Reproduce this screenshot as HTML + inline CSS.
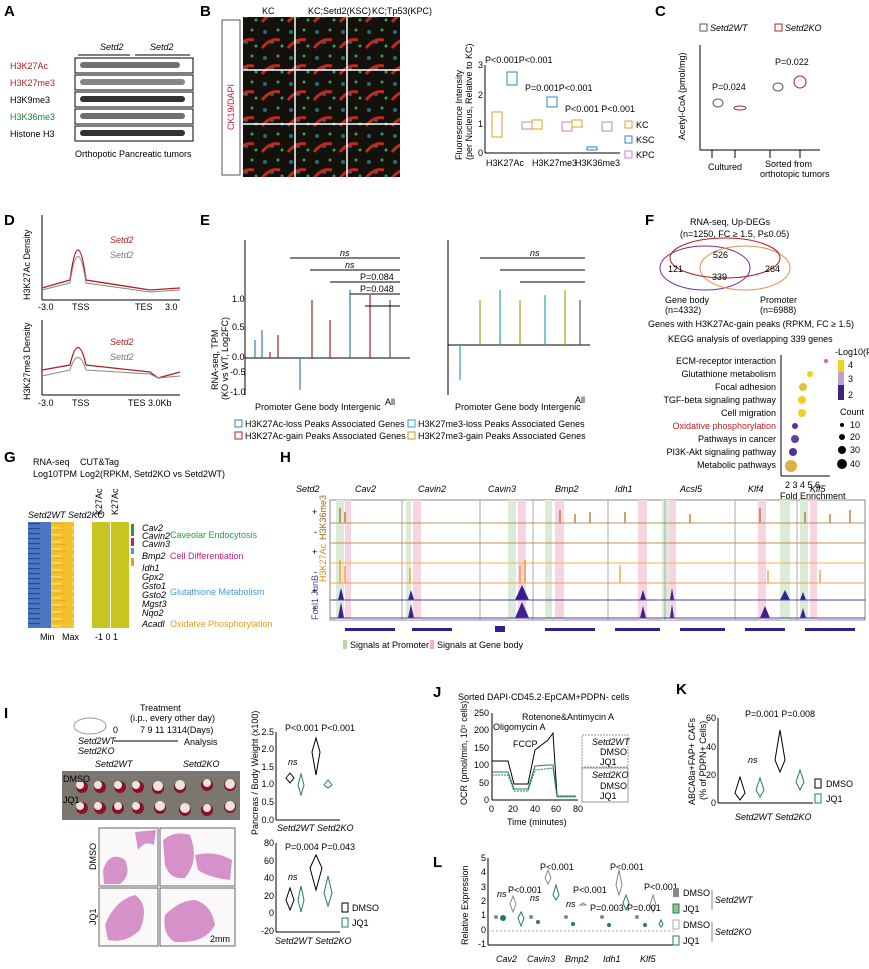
<!DOCTYPE html>
<html><head><meta charset="utf-8"><style>
body{margin:0;background:#fff}
svg{display:block;font-family:"Liberation Sans",sans-serif}
.b{font-weight:bold;font-size:15px}
text{font-size:9px}
.i{font-style:italic}
</style></head><body>
<svg width="869" height="969" viewBox="0 0 869 969" xmlns="http://www.w3.org/2000/svg">
<defs>
<pattern id="fl" width="26" height="26" patternUnits="userSpaceOnUse">
<rect width="26" height="26" fill="#14100c"/>
<circle cx="5" cy="6" r="2" fill="#2a6a7a"/><circle cx="18" cy="4" r="1.5" fill="#3aa060"/>
<circle cx="12" cy="16" r="2" fill="#2a5a8a"/><circle cx="22" cy="20" r="1.5" fill="#38a058"/>
<path d="M2 22 Q10 12 20 14" stroke="#c02a18" stroke-width="3" fill="none"/>
</pattern>
<pattern id="st" width="46" height="5" patternUnits="userSpaceOnUse">
<rect width="46" height="5" fill="none"/><rect x="5" y="1" width="12" height="1.5" fill="#6a90d0"/><rect x="25" y="3" width="15" height="1.2" fill="#2a4a90"/>
</pattern>
<pattern id="sy" width="23" height="7" patternUnits="userSpaceOnUse">
<rect x="3" y="2" width="12" height="1.5" fill="#f8dc70"/><rect x="8" y="5" width="12" height="1" fill="#e8b020"/>
</pattern>
</defs>

<!-- A -->
<text x="4" y="16" class="b">A</text>
<text x="100" y="50" class="i">Setd2</text><text x="150" y="50" class="i">Setd2</text>
<line x1="78" y1="55" x2="130" y2="55" stroke="#000"/><line x1="135" y1="55" x2="190" y2="55" stroke="#000"/>
<g fill="#fff" stroke="#000">
<rect x="75" y="58" width="118" height="15"/><rect x="75" y="75" width="118" height="15"/><rect x="75" y="92" width="118" height="15"/><rect x="75" y="109" width="118" height="15"/><rect x="75" y="126" width="118" height="15"/>
</g>
<g fill="#333">
<rect x="80" y="62" width="100" height="6" rx="3" opacity=".7"/><rect x="80" y="79" width="105" height="6" rx="3" opacity=".6"/><rect x="80" y="96" width="105" height="6" rx="3"/><rect x="80" y="113" width="105" height="6" rx="3" opacity=".7"/><rect x="80" y="130" width="105" height="6" rx="3"/>
</g>
<text x="10" y="69" fill="#b02020" font-size="10">H3K27Ac</text>
<text x="10" y="86" fill="#b02020" font-size="10">H3K27me3</text>
<text x="10" y="103" font-size="10">H3K9me3</text>
<text x="10" y="120" fill="#208040" font-size="10">H3K36me3</text>
<text x="10" y="137" font-size="10">Histone H3</text>
<text x="75" y="157" font-size="10">Orthopotic Pancreatic tumors</text>

<!-- B -->
<text x="200" y="16" class="b">B</text>
<text x="262" y="14">KC</text><text x="308" y="14">KC;Setd2(KSC)</text><text x="372" y="14">KC;Tp53(KPC)</text>
<rect x="222" y="20" width="18" height="155" fill="#fff" stroke="#555"/>
<text transform="translate(234,130) rotate(-90)" fill="#c02030">CK19/DAPI</text>
<text transform="translate(254,55) rotate(-90)" fill="#208040">H3K27Ac</text>
<text transform="translate(254,115) rotate(-90)" fill="#208040">H3K27me3</text>
<text transform="translate(254,172) rotate(-90)" fill="#208040">H3K36me3</text>
<rect x="243" y="17" width="157" height="160" fill="url(#fl)"/>
<g stroke="#fff" stroke-width="1.5"><line x1="295" y1="17" x2="295" y2="177"/><line x1="347" y1="17" x2="347" y2="177"/><line x1="243" y1="70" x2="400" y2="70"/><line x1="243" y1="124" x2="400" y2="124"/></g>
<text transform="translate(462,160) rotate(-90)" font-size="8">Fluorescence Intensity</text>
<text transform="translate(472,160) rotate(-90)" font-size="7">(per Nucleus, Relative to KC)</text>
<g stroke="#000" fill="none"><line x1="485" y1="65" x2="485" y2="153"/><line x1="485" y1="153" x2="620" y2="153"/></g>
<text x="478" y="68">3</text><text x="478" y="98">2</text><text x="478" y="127">1</text><text x="478" y="156">0</text>
<rect x="492" y="112" width="10" height="25" fill="none" stroke="#e0a020"/><rect x="507" y="72" width="10" height="13" fill="none" stroke="#3080c0"/><rect x="522" y="122" width="10" height="7" fill="none" stroke="#c080d0"/>
<rect x="532" y="120" width="10" height="9" fill="none" stroke="#e0a020"/><rect x="547" y="97" width="10" height="10" fill="none" stroke="#3080c0"/><rect x="562" y="122" width="10" height="9" fill="none" stroke="#c080d0"/>
<rect x="572" y="120" width="10" height="7" fill="none" stroke="#e0a020"/><rect x="587" y="147" width="10" height="3" fill="none" stroke="#3080c0"/><rect x="602" y="122" width="10" height="9" fill="none" stroke="#c080d0"/>
<text x="485" y="63" font-size="8">P&lt;0.001P&lt;0.001</text><text x="525" y="91" font-size="8">P=0.001P&lt;0.001</text><text x="565" y="112" font-size="8">P&lt;0.001 P&lt;0.001</text>
<text x="486" y="166">H3K27Ac</text><text x="532" y="166">H3K27me3</text><text x="575" y="166">H3K36me3</text>
<rect x="625" y="121" width="7" height="7" fill="none" stroke="#e0a020"/><text x="636" y="128">KC</text>
<rect x="625" y="136" width="7" height="7" fill="none" stroke="#3080c0"/><text x="636" y="143">KSC</text>
<rect x="625" y="151" width="7" height="7" fill="none" stroke="#c080d0"/><text x="636" y="158">KPC</text>

<!-- C -->
<text x="655" y="16" class="b">C</text>
<rect x="700" y="24" width="7" height="7" fill="none" stroke="#555"/><text x="710" y="31" class="i">Setd2WT</text>
<rect x="775" y="24" width="7" height="7" fill="none" stroke="#b02020"/><text x="785" y="31" class="i">Setd2KO</text>
<text transform="translate(685,140) rotate(-90)">Acetyl-CoA (pmol/mg)</text>
<g stroke="#000" fill="none"><line x1="700" y1="45" x2="700" y2="150"/><line x1="700" y1="150" x2="820" y2="150"/></g>
<path d="M712 158 L712 150 M735 158 L735 150 M770 158 L770 150 M800 158 L800 150" stroke="#000"/>
<ellipse cx="718" cy="103" rx="5" ry="4" fill="none" stroke="#555"/><ellipse cx="740" cy="108" rx="6" ry="2" fill="none" stroke="#b02020"/>
<ellipse cx="778" cy="87" rx="5" ry="4" fill="none" stroke="#555"/><ellipse cx="800" cy="82" rx="6" ry="6" fill="none" stroke="#b02020"/>
<text x="712" y="90" font-size="8">P=0.024</text><text x="775" y="65" font-size="8">P=0.022</text>
<text x="708" y="170">Cultured</text><text x="765" y="167">Sorted from</text><text x="760" y="177">orthotopic tumors</text>

<!-- D -->
<text x="4" y="225" class="b">D</text>
<text transform="translate(30,300) rotate(-90)" font-size="8">H3K27Ac Density</text>
<g stroke="#000" fill="none"><line x1="42" y1="215" x2="42" y2="300"/><line x1="42" y1="300" x2="180" y2="300"/><line x1="42" y1="320" x2="42" y2="395"/><line x1="42" y1="395" x2="180" y2="395"/></g>
<path d="M42 288 L70 280 Q78 220 86 280 L150 290 L180 288" stroke="#b02020" fill="none" stroke-width="1.3"/>
<path d="M42 290 L70 283 Q78 230 86 283 L150 292 L180 290" stroke="#888" fill="none"/>
<text x="110" y="243" fill="#b02020" class="i" font-size="11">Setd2</text><text x="110" y="258" fill="#777" class="i" font-size="11">Setd2</text>
<text x="38" y="310">-3.0</text><text x="72" y="310">TSS</text><text x="135" y="310">TES</text><text x="165" y="310">3.0</text>
<text transform="translate(30,400) rotate(-90)" font-size="8">H3K27me3 Density</text>
<path d="M42 370 L70 365 Q78 330 86 365 L150 372 L158 378 L180 372" stroke="#b02020" fill="none" stroke-width="1.3"/>
<path d="M42 376 L70 370 Q78 345 86 370 L150 374 L158 378 L180 376" stroke="#888" fill="none"/>
<text x="110" y="345" fill="#b02020" class="i" font-size="11">Setd2</text><text x="110" y="360" fill="#777" class="i" font-size="11">Setd2</text>
<text x="38" y="406">-3.0</text><text x="72" y="406">TSS</text><text x="128" y="406">TES 3.0Kb</text>

<!-- E -->
<text x="200" y="225" class="b">E</text>
<text transform="translate(218,390) rotate(-90)">RNA-seq, TPM</text>
<text transform="translate(228,400) rotate(-90)" font-size="7">(KO vs WT, Log2FC)</text>
<g stroke="#000" fill="none"><line x1="245" y1="240" x2="245" y2="395"/><line x1="245" y1="358" x2="410" y2="358"/><line x1="448" y1="240" x2="448" y2="395"/><line x1="448" y1="345" x2="590" y2="345"/></g>
<text x="232" y="302">1.0</text><text x="232" y="330">0.5</text><text x="232" y="360">0.0</text><text x="230" y="375">-0.5</text><text x="230" y="395">-1.0</text>
<g fill="none" stroke-width="1.2">
<path d="M255 358 V340 M262 358 V330" stroke="#3080a0"/><path d="M270 358 V352 M278 358 V335" stroke="#b02020"/>
<path d="M300 358 V390" stroke="#3080a0"/><path d="M312 358 V300" stroke="#b02020"/><path d="M330 358 V320" stroke="#b02020"/>
<path d="M350 358 V290" stroke="#3080a0"/><path d="M370 358 V295" stroke="#b02020"/><path d="M390 358 V300" stroke="#555"/>
<path d="M460 345 V380" stroke="#30a0b0"/><path d="M480 345 V300" stroke="#b0a020"/><path d="M500 345 V290" stroke="#30a0b0"/><path d="M520 345 V300" stroke="#b0a020"/><path d="M545 345 V295" stroke="#30a0b0"/><path d="M565 345 V290" stroke="#b0a020"/><path d="M580 345 V300" stroke="#555"/>
</g>
<g stroke="#000" fill="none"><path d="M290 258 H400 M310 270 H400 M330 282 H400 M350 294 H400 M365 306 H400"/><path d="M480 258 H585 M500 270 H585 M520 282 H585"/></g>
<text x="340" y="256" class="i">ns</text><text x="345" y="268" class="i">ns</text><text x="360" y="280">P=0.084</text><text x="360" y="292">P=0.048</text>
<text x="530" y="256" class="i">ns</text>
<text x="255" y="410">Promoter Gene body Intergenic</text><text x="385" y="405">All</text>
<text x="455" y="410">Promoter Gene body Intergenic</text><text x="575" y="403">All</text>
<rect x="235" y="420" width="7" height="7" fill="none" stroke="#3080a0"/><text x="245" y="427">H3K27Ac-loss Peaks Associated Genes</text>
<rect x="408" y="420" width="7" height="7" fill="none" stroke="#30a0b0"/><text x="418" y="427">H3K27me3-loss Peaks Associated Genes</text>
<rect x="235" y="432" width="7" height="7" fill="none" stroke="#b02020"/><text x="245" y="439">H3K27Ac-gain Peaks Associated Genes</text>
<rect x="408" y="432" width="7" height="7" fill="none" stroke="#b0a020"/><text x="418" y="439">H3K27me3-gain Peaks Associated Genes</text>

<!-- F -->
<text x="645" y="225" class="b">F</text>
<text x="690" y="225" font-size="10">RNA-seq, Up-DEGs</text><text x="680" y="237" font-size="8">(n=1250, FC ≥ 1.5, P≤0.05)</text>
<ellipse cx="705" cy="268" rx="45" ry="22" fill="none" stroke="#7030a0"/><ellipse cx="745" cy="268" rx="45" ry="22" fill="none" stroke="#e09050"/><ellipse cx="725" cy="258" rx="55" ry="20" fill="none" stroke="#b02020"/>
<text x="713" y="258" font-size="10">526</text><text x="668" y="272" font-size="10">121</text><text x="712" y="280" font-size="10">339</text><text x="765" y="272" font-size="10">264</text>
<text x="665" y="303">Gene body</text><text x="760" y="303">Promoter</text><text x="665" y="313" font-size="8">(n=4332)</text><text x="760" y="313" font-size="8">(n=6988)</text>
<text x="648" y="327">Genes with  H3K27Ac-gain peaks (RPKM, FC ≥ 1.5)</text>
<text x="668" y="342" font-size="10">KEGG analysis of overlapping 339 genes</text>
<g font-size="8.5" text-anchor="end">
<text x="776" y="364">ECM-receptor interaction</text><text x="776" y="377">Glutathione metabolism</text><text x="776" y="390">Focal adhesion</text><text x="776" y="403">TGF-beta signaling pathway</text><text x="776" y="416">Cell migration</text><text x="776" y="429" fill="#c02020">Oxidative phosphorylation</text><text x="776" y="442">Pathways in cancer</text><text x="776" y="455">PI3K-Akt signaling pathway</text><text x="776" y="468">Metabolic pathways</text>
</g>
<g stroke="#000" fill="none"><line x1="781" y1="355" x2="781" y2="476"/><line x1="781" y1="476" x2="830" y2="476"/></g>
<circle cx="826" cy="361" r="2" fill="#e060a0"/><circle cx="810" cy="374" r="3" fill="#f0d020"/><circle cx="803" cy="387" r="4" fill="#e0c040"/><circle cx="802" cy="400" r="4" fill="#f0d020"/><circle cx="802" cy="413" r="4" fill="#f0d020"/><circle cx="795" cy="426" r="3" fill="#6030a0"/><circle cx="795" cy="439" r="4" fill="#6040a0"/><circle cx="793" cy="452" r="4" fill="#5030a0"/><circle cx="791" cy="466" r="6" fill="#e0b040"/>
<text x="785" y="488">2 3 4 5 6</text><text x="780" y="499">Fold Enrichment</text>
<text x="835" y="355" font-size="7">-Log10(P value)</text>
<rect x="838" y="360" width="6" height="40" fill="#c0a0d0"/><rect x="838" y="360" width="6" height="12" fill="#f0d020"/><rect x="838" y="385" width="6" height="15" fill="#402080"/>
<text x="848" y="368" font-size="7">4</text><text x="848" y="382" font-size="7">3</text><text x="848" y="398" font-size="7">2</text>
<text x="840" y="415" font-size="7">Count</text>
<circle cx="842" cy="425" r="2"/><circle cx="842" cy="437" r="3"/><circle cx="842" cy="450" r="4"/><circle cx="842" cy="464" r="5"/>
<text x="850" y="428" font-size="7">10</text><text x="850" y="440" font-size="7">20</text><text x="850" y="453" font-size="7">30</text><text x="850" y="467" font-size="7">40</text>

<!-- G -->
<text x="4" y="462" class="b">G</text>
<text x="33" y="465" font-size="10">RNA-seq</text><text x="33" y="477" font-size="7">Log10TPM</text>
<text x="80" y="465" font-size="10">CUT&amp;Tag</text><text x="80" y="477" font-size="7">Log2(RPKM, Setd2KO vs Setd2WT)</text>
<text x="28" y="518" class="i" font-size="8">Setd2WT Setd2KO</text>
<text transform="translate(102,515) rotate(-90)" font-size="8">K27Ac</text><text transform="translate(118,515) rotate(-90)" font-size="8">K27Ac</text>
<rect x="28" y="522" width="23" height="106" fill="#4a78c0"/><rect x="28" y="522" width="23" height="106" fill="url(#st)"/>
<rect x="51" y="522" width="23" height="106" fill="#f4c030"/><rect x="51" y="522" width="23" height="106" fill="url(#sy)"/>
<rect x="92" y="522" width="18" height="106" fill="#c8c420"/><rect x="111" y="522" width="18" height="106" fill="#c8c420"/>
<rect x="131" y="524" width="3" height="12" fill="#20a040"/><rect x="131" y="538" width="3" height="8" fill="#c02080"/><rect x="131" y="548" width="3" height="6" fill="#40a0d0"/><rect x="131" y="558" width="3" height="8" fill="#e0a020"/>
<g font-size="8" class="i"><text x="142" y="531">Cav2</text><text x="142" y="539">Cavin2</text><text x="142" y="547">Cavin3</text><text x="142" y="559">Bmp2</text><text x="142" y="571">Idh1</text><text x="142" y="580">Gpx2</text><text x="142" y="589">Gsto1</text><text x="142" y="598">Gsto2</text><text x="142" y="607">Mgst3</text><text x="142" y="616">Nqo2</text><text x="142" y="627">Acadl</text></g>
<text x="170" y="538" fill="#20a040" font-size="9">Caveolar Endocytosis</text>
<text x="170" y="559" fill="#c02080" font-size="9">Cell Differentiation</text>
<text x="170" y="595" fill="#40a0d0" font-size="9">Glutathione Metabolism</text>
<text x="170" y="627" fill="#e0a020" font-size="9">Oxidatve Phosphorylation</text>
<text x="40" y="640" font-size="8">Min</text><text x="62" y="640" font-size="8">Max</text><text x="95" y="640" font-size="8">-1  0  1</text>

<!-- H -->
<text x="280" y="462" class="b">H</text>
<text x="296" y="492" class="i" font-size="10">Setd2</text>
<g class="i" font-size="10"><text x="355" y="492">Cav2</text><text x="418" y="492">Cavin2</text><text x="488" y="492">Cavin3</text><text x="555" y="492">Bmp2</text><text x="615" y="492">Idh1</text><text x="680" y="492">Acsl5</text><text x="748" y="492">Klf4</text><text x="810" y="492">Klf5</text></g>
<rect x="330" y="500" width="535" height="120" fill="none" stroke="#888"/>
<g fill="#dcebd8"><rect x="336" y="500" width="8" height="120"/><rect x="406" y="500" width="5" height="120"/><rect x="508" y="500" width="8" height="120"/><rect x="545" y="500" width="7" height="120"/><rect x="662" y="500" width="8" height="120"/><rect x="780" y="500" width="10" height="120"/><rect x="800" y="500" width="8" height="120"/></g>
<g fill="#f6d4e2"><rect x="345" y="500" width="6" height="120"/><rect x="413" y="500" width="8" height="120"/><rect x="518" y="500" width="8" height="120"/><rect x="555" y="500" width="9" height="120"/><rect x="638" y="500" width="9" height="120"/><rect x="670" y="500" width="6" height="120"/><rect x="758" y="500" width="8" height="120"/><rect x="810" y="500" width="7" height="120"/></g>
<g stroke="#aaa"><line x1="402" y1="500" x2="402" y2="620"/><line x1="480" y1="500" x2="480" y2="620"/><line x1="533" y1="500" x2="533" y2="620"/><line x1="608" y1="500" x2="608" y2="620"/><line x1="665" y1="500" x2="665" y2="620"/><line x1="735" y1="500" x2="735" y2="620"/><line x1="797" y1="500" x2="797" y2="620"/></g>
<g stroke="#a06820" stroke-width="1.2"><path d="M340 523V508 M345 523V512 M560 523V510 M575 523V514 M590 523V512 M625 523V512 M690 523V514 M760 523V508 M805 523V512 M830 523V514 M850 523V510"/></g>
<line x1="330" y1="523" x2="865" y2="523" stroke="#c09050"/><line x1="330" y1="543" x2="865" y2="543" stroke="#c09050"/>
<line x1="330" y1="563" x2="865" y2="563" stroke="#f0b050"/>
<g stroke="#f09020" stroke-width="1.2"><path d="M340 583V560 M345 583V566 M410 583V568 M520 583V565 M525 583V560 M620 583V565 M768 583V570 M820 583V570"/></g>
<line x1="330" y1="583" x2="865" y2="583" stroke="#f0a040"/>
<g fill="#302090"><path d="M338 600 L341 588 L344 600Z M408 600 L411 590 L414 600Z M515 600 L522 585 L529 600Z M640 600 L643 590 L646 600Z M670 600 L672 588 L674 600Z M780 600 L785 590 L790 600Z M800 600 L803 592 L806 600Z"/></g>
<line x1="330" y1="600" x2="865" y2="600" stroke="#5040a0"/>
<g fill="#402090"><path d="M338 618 L341 602 L344 618Z M408 618 L411 604 L414 618Z M515 618 L522 602 L529 618Z M640 618 L643 606 L646 618Z M670 618 L672 604 L674 618Z M760 618 L765 606 L770 618Z M800 618 L803 608 L806 618Z"/></g>
<line x1="330" y1="618" x2="865" y2="618" stroke="#5040a0"/>
<text x="312" y="515">+</text><text x="314" y="535">-</text><text x="312" y="555">+</text><text x="314" y="575">-</text><text x="312" y="594">+</text><text x="312" y="612">+</text>
<text transform="translate(326,540) rotate(-90)" fill="#a06820" font-size="8">H3K36me3</text>
<text transform="translate(326,582) rotate(-90)" fill="#e09020" font-size="8">H3K27Ac</text>
<text transform="translate(318,620) rotate(-90)" fill="#5040a0" font-size="8">Fosl1 JunB</text>
<g fill="#302090"><rect x="345" y="628" width="50" height="3"/><rect x="412" y="628" width="40" height="3"/><rect x="495" y="626" width="10" height="6"/><rect x="545" y="628" width="50" height="3"/><rect x="615" y="628" width="45" height="3"/><rect x="680" y="628" width="45" height="3"/><rect x="745" y="628" width="40" height="3"/><rect x="805" y="628" width="50" height="3"/></g>
<rect x="343" y="640" width="4" height="9" fill="#b8d8a8"/><text x="350" y="648" font-size="9">Signals at Promoter</text>
<rect x="430" y="640" width="4" height="9" fill="#f0b0c8"/><text x="437" y="648" font-size="9">Signals at Gene body</text>

<!-- I -->
<text x="4" y="718" class="b">I</text>
<text x="140" y="711" font-size="8">Treatment</text><text x="130" y="721" font-size="7">(i.p., every other day)</text>
<ellipse cx="90" cy="726" rx="16" ry="8" fill="none" stroke="#999"/>
<text x="113" y="733" font-size="8">0</text><text x="140" y="733" font-size="8">7 9 11 1314(Days)</text>
<text x="78" y="744" class="i" font-size="10">Setd2WT</text><text x="78" y="754" class="i" font-size="10">Setd2KO</text>
<line x1="114" y1="741" x2="178" y2="741" stroke="#000"/><text x="184" y="745" font-size="10">Analysis</text>
<text x="95" y="767" class="i" font-size="10">Setd2WT</text><text x="183" y="767" class="i" font-size="10">Setd2KO</text>
<rect x="62" y="771" width="178" height="49" fill="#7a7670"/>
<g fill="#8a1028">
<circle cx="82" cy="787" r="6"/><circle cx="100" cy="787" r="6"/><circle cx="120" cy="787" r="6"/><circle cx="138" cy="787" r="6"/><circle cx="158" cy="788" r="6"/><circle cx="180" cy="787" r="6"/><circle cx="207" cy="785" r="6"/><circle cx="230" cy="785" r="6"/>
<circle cx="82" cy="808" r="6"/><circle cx="100" cy="808" r="6"/><circle cx="118" cy="808" r="6"/><circle cx="138" cy="808" r="6"/><circle cx="160" cy="808" r="6"/><circle cx="185" cy="810" r="6"/><circle cx="207" cy="810" r="6"/><circle cx="230" cy="807" r="6"/></g>
<g fill="#eee4da"><circle cx="80" cy="785" r="4"/><circle cx="98" cy="785" r="4"/><circle cx="118" cy="785" r="4"/><circle cx="136" cy="785" r="4"/><circle cx="158" cy="786" r="5"/><circle cx="180" cy="785" r="5"/><circle cx="207" cy="783" r="4"/><circle cx="230" cy="784" r="5"/><circle cx="80" cy="806" r="4"/><circle cx="98" cy="806" r="4"/><circle cx="118" cy="806" r="4"/><circle cx="136" cy="806" r="4"/><circle cx="160" cy="806" r="5"/><circle cx="185" cy="808" r="5"/><circle cx="207" cy="808" r="4"/><circle cx="230" cy="806" r="5"/></g>
<text x="63" y="782" font-size="9">DMSO</text><text x="63" y="803" font-size="9">JQ1</text>
<rect x="99" y="828" width="59" height="58" fill="#fbf8fa" stroke="#666"/><rect x="160" y="828" width="75" height="58" fill="#fbf8fa" stroke="#666"/>
<rect x="99" y="888" width="59" height="58" fill="#fbf8fa" stroke="#666"/><rect x="160" y="888" width="75" height="58" fill="#fbf8fa" stroke="#666"/>
<g fill="#d080c0" opacity=".85">
<path d="M103 870 Q110 850 125 860 Q132 875 120 884 L104 884Z"/><path d="M135 832 L156 830 L154 845 Q145 840 138 850Z"/>
<path d="M163 840 Q175 830 190 835 Q200 860 185 878 Q170 880 165 865Z"/><path d="M195 855 Q215 850 232 860 L230 880 Q210 878 198 870Z"/>
<path d="M105 925 Q115 900 135 895 Q150 905 140 930 Q125 944 108 940Z"/>
<path d="M165 915 Q180 900 195 900 Q212 905 215 925 Q205 944 175 942 Q162 935 165 915Z"/>
</g>
<text transform="translate(96,870) rotate(-90)" font-size="9">DMSO</text><text transform="translate(96,925) rotate(-90)" font-size="9">JQ1</text>
<text x="210" y="942" font-size="8">2mm</text>
<text transform="translate(258,835) rotate(-90)" font-size="8">Pancreas / Body Weight (x100)</text>
<g stroke="#000" fill="none"><line x1="276" y1="732" x2="276" y2="820"/><line x1="276" y1="820" x2="340" y2="820"/><line x1="276" y1="843" x2="276" y2="932"/><line x1="276" y1="932" x2="340" y2="932"/></g>
<g font-size="8" text-anchor="end"><text x="274" y="735">2.5</text><text x="274" y="752">2.0</text><text x="274" y="770">1.5</text><text x="274" y="787">1.0</text><text x="274" y="805">0.5</text><text x="274" y="823">0.0</text>
<text x="274" y="846">80</text><text x="274" y="864">60</text><text x="274" y="881">40</text><text x="274" y="899">20</text><text x="274" y="916">0</text><text x="274" y="934">-20</text></g>
<path d="M286 778 L290 773 L294 778 L290 783Z" fill="none" stroke="#000"/><path d="M298 785 L301 774 L304 785 L301 795Z" fill="none" stroke="#208050"/>
<path d="M312 752 L316 738 L320 752 L316 775Z" fill="none" stroke="#000"/><path d="M324 785 L328 780 L332 785 L328 788Z" fill="none" stroke="#208050"/>
<path d="M286 900 L290 888 L294 900 L290 910Z" fill="none" stroke="#000"/><path d="M298 900 L301 886 L304 900 L301 912Z" fill="none" stroke="#208050"/>
<path d="M310 868 L316 855 L322 868 L316 890Z" fill="none" stroke="#000"/><path d="M324 893 L328 876 L332 893 L328 906Z" fill="none" stroke="#208050"/>
<text x="285" y="731" font-size="8">P&lt;0.001 P&lt;0.001</text><text x="288" y="765" font-size="8" class="i">ns</text>
<text x="285" y="850" font-size="8">P=0.004 P=0.043</text><text x="288" y="880" font-size="8" class="i">ns</text>
<text x="277" y="831" class="i" font-size="9">Setd2WT Setd2KO</text><text x="275" y="944" class="i" font-size="9">Setd2WT Setd2KO</text>
<rect x="342" y="903" width="6" height="9" fill="none" stroke="#000"/><text x="352" y="911" font-size="9">DMSO</text>
<rect x="342" y="918" width="6" height="9" fill="none" stroke="#208050"/><text x="352" y="926" font-size="9">JQ1</text>

<!-- J -->
<text x="433" y="697" class="b">J</text>
<text x="458" y="700" font-size="10">Sorted DAPI·CD45.2·EpCAM+PDPN- cells</text>
<text transform="translate(467,805) rotate(-90)" font-size="8">OCR (pmol/min, 10⁵ cells)</text>
<g stroke="#000" fill="none"><line x1="492" y1="713" x2="492" y2="800"/><line x1="492" y1="800" x2="578" y2="800"/></g>
<g font-size="8" text-anchor="end"><text x="489" y="716">250</text><text x="489" y="733">200</text><text x="489" y="751">150</text><text x="489" y="768">100</text><text x="489" y="786">50</text><text x="489" y="803">0</text></g>
<g font-size="8"><text x="489" y="812">0</text><text x="508" y="812">20</text><text x="530" y="812">40</text><text x="551" y="812">60</text><text x="573" y="812">80</text></g>
<text x="507" y="825" font-size="9">Time (minutes)</text>
<polyline points="492,761 508,761 514,784 528,784 535,750 548,740 553,733 557,796 576,796" fill="none" stroke="#000"/>
<polyline points="492,772 508,772 514,789 528,789 535,766 548,765 553,765 557,796 576,796" fill="none" stroke="#208050"/>
<polyline points="492,775 508,775 514,791 528,791 535,770 553,768 557,797 576,797" fill="none" stroke="#208050" stroke-dasharray="2,1"/>
<text x="493" y="730" font-size="7.5">Oligomycin A</text><text x="513" y="747" font-size="7.5">FCCP</text><text x="522" y="720" font-size="7.5">Rotenone&amp;Antimycin A</text>
<rect x="582" y="735" width="46" height="32" fill="none" stroke="#999" stroke-dasharray="2,1"/><rect x="582" y="768" width="46" height="34" fill="none" stroke="#999"/>
<text x="592" y="745" class="i" font-size="8">Setd2WT</text><text x="600" y="755" font-size="8">DMSO</text><text x="600" y="765" font-size="8">JQ1</text>
<text x="592" y="778" class="i" font-size="8">Setd2KO</text><text x="600" y="789" font-size="8">DMSO</text><text x="600" y="799" font-size="8">JQ1</text>

<!-- K -->
<text x="676" y="694" class="b">K</text>
<text transform="translate(695,805) rotate(-90)" font-size="8">ABCA8a+FAP+ CAFs</text>
<text transform="translate(706,800) rotate(-90)" font-size="7">(% of PDPN+ Cells)</text>
<g stroke="#000" fill="none"><line x1="718" y1="718" x2="718" y2="803"/><line x1="718" y1="803" x2="813" y2="803"/></g>
<g font-size="8" text-anchor="end"><text x="716" y="721">60</text><text x="716" y="750">40</text><text x="716" y="778">20</text><text x="716" y="806">0</text></g>
<path d="M735 793 L740 777 L745 793 L740 800Z" fill="none" stroke="#000"/><path d="M756 790 L760 778 L764 790 L760 797Z" fill="none" stroke="#208050"/>
<path d="M775 760 L780 730 L785 760 L780 772Z" fill="none" stroke="#000"/><path d="M796 782 L800 770 L804 782 L800 790Z" fill="none" stroke="#208050"/>
<text x="745" y="717" font-size="8">P=0.001  P=0.008</text><text x="748" y="763" class="i" font-size="8">ns</text>
<text x="735" y="820" class="i" font-size="9">Setd2WT Setd2KO</text>
<rect x="815" y="779" width="6" height="9" fill="none" stroke="#000"/><text x="826" y="787" font-size="9">DMSO</text>
<rect x="815" y="794" width="6" height="9" fill="none" stroke="#208050"/><text x="826" y="802" font-size="9">JQ1</text>

<!-- L -->
<text x="433" y="867" class="b">L</text>
<text transform="translate(468,945) rotate(-90)" font-size="9">Relative Expression</text>
<g stroke="#000" fill="none"><line x1="488" y1="858" x2="488" y2="945"/><line x1="488" y1="945" x2="675" y2="945"/></g>
<line x1="488" y1="931" x2="675" y2="931" stroke="#aaa" stroke-dasharray="2,2"/>
<g font-size="8" text-anchor="end"><text x="486" y="861">5</text><text x="486" y="875">4</text><text x="486" y="890">3</text><text x="486" y="904">2</text><text x="486" y="918">1</text><text x="486" y="933">0</text><text x="486" y="947">-1</text></g>
<g fill="#888"><circle cx="496" cy="917" r="2"/><circle cx="531" cy="917" r="2"/><circle cx="566" cy="917" r="2"/><circle cx="602" cy="917" r="2"/><circle cx="637" cy="917" r="2"/></g>
<g fill="#208050"><circle cx="503" cy="918" r="3"/><circle cx="538" cy="922" r="2"/><circle cx="573" cy="924" r="2"/><circle cx="609" cy="925" r="2"/><circle cx="645" cy="925" r="2"/></g>
<path d="M510 904 L513 896 L516 904 L513 912Z M545 878 L548 870 L551 878 L548 884Z M580 905 L583 903 L586 905Z M616 885 L619 870 L622 885 L619 895Z M650 905 L653 895 L656 905 L653 912Z" fill="none" stroke="#888"/>
<path d="M518 918 L521 912 L524 918 L521 926Z M553 895 L556 885 L559 895 L556 900Z M623 903 L626 895 L629 903 L626 910Z M659 924 L661 920 L663 924 L661 927Z" fill="none" stroke="#208050"/>
<g font-size="7"><text x="497" y="897" class="i">ns</text><text x="508" y="893">P&lt;0.001</text><text x="530" y="901" class="i">ns</text><text x="540" y="870">P&lt;0.001</text><text x="566" y="907" class="i">ns</text><text x="573" y="893">P&lt;0.001</text><text x="590" y="911">P=0.003</text><text x="610" y="870">P&lt;0.001</text><text x="627" y="911">P=0.001</text><text x="644" y="890">P&lt;0.001</text></g>
<g class="i" font-size="9"><text x="496" y="962">Cav2</text><text x="527" y="962">Cavin3</text><text x="565" y="962">Bmp2</text><text x="603" y="962">Idh1</text><text x="640" y="962">Klf5</text></g>
<rect x="673" y="888" width="6" height="9" fill="#888"/><text x="683" y="896" font-size="9">DMSO</text>
<rect x="673" y="904" width="6" height="9" fill="#90c090" stroke="#208050"/><text x="683" y="912" font-size="9">JQ1</text>
<rect x="673" y="920" width="6" height="9" fill="none" stroke="#aaa"/><text x="683" y="928" font-size="9">DMSO</text>
<rect x="673" y="936" width="6" height="9" fill="none" stroke="#208050"/><text x="683" y="944" font-size="9">JQ1</text>
<line x1="712" y1="890" x2="712" y2="910" stroke="#888"/><text x="715" y="903" class="i" font-size="8">Setd2WT</text>
<line x1="712" y1="922" x2="712" y2="942" stroke="#888"/><text x="715" y="935" class="i" font-size="8">Setd2KO</text>
</svg>
</body></html>
